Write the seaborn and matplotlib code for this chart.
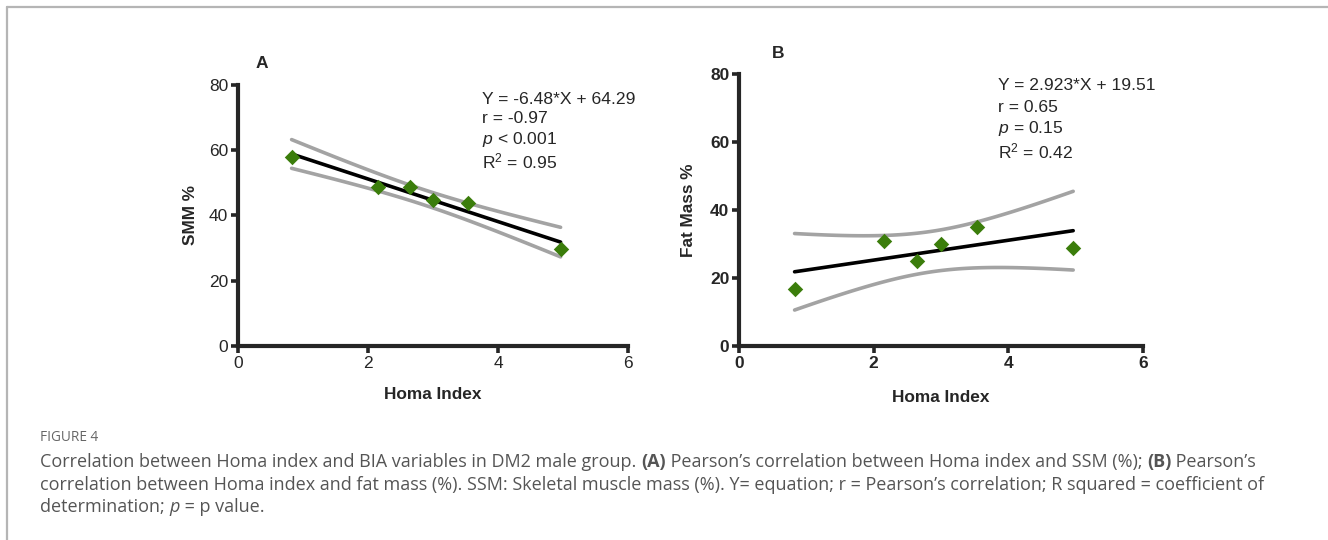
import numpy as np
import pandas as pd
import seaborn as sns
import matplotlib.pyplot as plt
from matplotlib.lines import Line2D

# data
homa = [0.825, 2.153, 2.642, 2.998, 3.541, 4.963]
smm = [57.9, 48.8, 48.8, 44.7, 43.7, 29.8]
fat_mass = [16.9, 30.9, 25.0, 29.9, 34.9, 28.9]

stats_a = ["Y = -6.48*X + 64.29", "r = -0.97", "$p$ < 0.001", "R$^2$ = 0.95"]
stats_b = ["Y = 2.923*X + 19.51", "r = 0.65", "$p$ = 0.15", "R$^2$ = 0.42"]

sns.set_style("ticks")
plt.rcParams["font.family"] = ["Liberation Sans", "DejaVu Sans"]
plt.rcParams["mathtext.fontset"] = "custom"
plt.rcParams["mathtext.rm"] = "Liberation Sans"
plt.rcParams["mathtext.it"] = "Liberation Sans:italic"
plt.rcParams["mathtext.bf"] = "Liberation Sans:bold"

GREEN = "#3b7d0b"
GREY = "#a3a3a3"
T_CRIT = 2.776  # t(0.975, df=4)


def fit_frame(x, y):
    x = np.asarray(x); y = np.asarray(y)
    b, a = np.polyfit(x, y, 1)
    n = len(x)
    s = np.sqrt(np.sum((y - (a + b * x)) ** 2) / (n - 2))
    sxx = np.sum((x - x.mean()) ** 2)
    xs = np.linspace(x.min(), x.max(), 100)
    yh = a + b * xs
    half = T_CRIT * s * np.sqrt(1 / n + (xs - x.mean()) ** 2 / sxx)
    return pd.DataFrame({"x": xs, "fit": yh, "lo": yh - half, "hi": yh + half})


fig = plt.figure(figsize=(13.28, 5.4), dpi=100)
ax_a = fig.add_axes([0.1792, 0.3593, 0.2937, 0.4833])
ax_b = fig.add_axes([0.5565, 0.3593, 0.3042, 0.5037])

panels = [
    (ax_a, smm, "SMM %", stats_a, "normal", "A",
     [0.929, 0.853, 0.774, 0.681], 0.626, (262, 64), 12, 8),
    (ax_b, fat_mass, "Fat Mass %", stats_b, "bold", "B",
     [0.941, 0.861, 0.784, 0.690], 0.641, (778, 53), 14, 10),
]

for ax, yvals, ylab, stats, tickw, letter, ys, tx, lpos, xpad, ypad in panels:
    df = pd.DataFrame({"homa": homa, "val": yvals})
    fr = fit_frame(homa, yvals)
    sns.lineplot(data=fr, x="x", y="hi", ax=ax, color=GREY, lw=2.6)
    sns.lineplot(data=fr, x="x", y="lo", ax=ax, color=GREY, lw=2.6)
    sns.lineplot(data=fr, x="x", y="fit", ax=ax, color="black", lw=2.6)
    sns.scatterplot(data=df, x="homa", y="val", ax=ax, marker="D", s=62,
                    color=GREEN, edgecolor=GREEN, linewidth=0, zorder=5)
    ax.set_xlim(0, 6)
    ax.set_ylim(0, 80)
    ax.set_xticks([0, 2, 4, 6])
    ax.set_yticks([0, 20, 40, 60, 80])
    sns.despine(ax=ax)
    for sp in ["left", "bottom"]:
        ax.spines[sp].set_linewidth(3)
    ax.tick_params(width=2.6, length=5, labelsize=12.5, pad=2)
    for lab in ax.get_xticklabels() + ax.get_yticklabels():
        lab.set_fontweight(tickw)
    ax.set_xlabel("Homa Index", fontsize=12.4, fontweight="bold", labelpad=xpad)
    ax.set_ylabel(ylab, fontsize=12.4, fontweight="bold", labelpad=ypad)
    for s, yy in zip(stats, ys):
        ax.text(tx, yy, s, transform=ax.transAxes, fontsize=12.6, va="baseline")
    fig.text(lpos[0] / 1328, 1 - lpos[1] / 540, letter, fontsize=12.5,
             fontweight="bold", ha="center", va="center")

# frame lines
fig.add_artist(Line2D([7 / 1328, 1], [1 - 7 / 540] * 2, color="#b5b5b5", lw=1.6))
fig.add_artist(Line2D([7 / 1328] * 2, [0, 1 - 7 / 540], color="#b5b5b5", lw=1.6))

# caption
cap = fig.add_axes([0, 0, 1, 1])
cap.axis("off")
CAP_C = "#555555"
CAP_F = "Open Sans"
cap.text(40 / 1328, 1 - 441 / 540, "FIGURE 4", family=CAP_F, fontsize=9.8,
         color="#666666", va="baseline")


def run(y_px, pieces):
    t = cap.text(40 / 1328, 1 - y_px / 540, pieces[0][0], family=CAP_F,
                 fontsize=13, color=CAP_C, va="baseline", **pieces[0][1])
    for s, kw in pieces[1:]:
        t = cap.annotate(s, xy=(1, 0), xycoords=t, va="bottom", ha="left",
                         family=CAP_F, fontsize=13, color=CAP_C, **kw)


run(466.7, [
    ("Correlation between Homa index and BIA variables in DM2 male group. ", {}),
    ("(A)", {"fontweight": "bold"}),
    (" Pearson\u2019s correlation between Homa index and SSM (%); ", {}),
    ("(B)", {"fontweight": "bold"}),
    (" Pearson\u2019s", {}),
])
run(489.5, [
    ("correlation between Homa index and fat mass (%). SSM: Skeletal muscle mass (%). "
     "Y= equation; r = Pearson\u2019s correlation; R squared = coefficient of", {}),
])
run(512.5, [
    ("determination; ", {}),
    ("p", {"fontstyle": "italic"}),
    (" = p value.", {}),
])

fig.savefig("out.png", dpi=100)
